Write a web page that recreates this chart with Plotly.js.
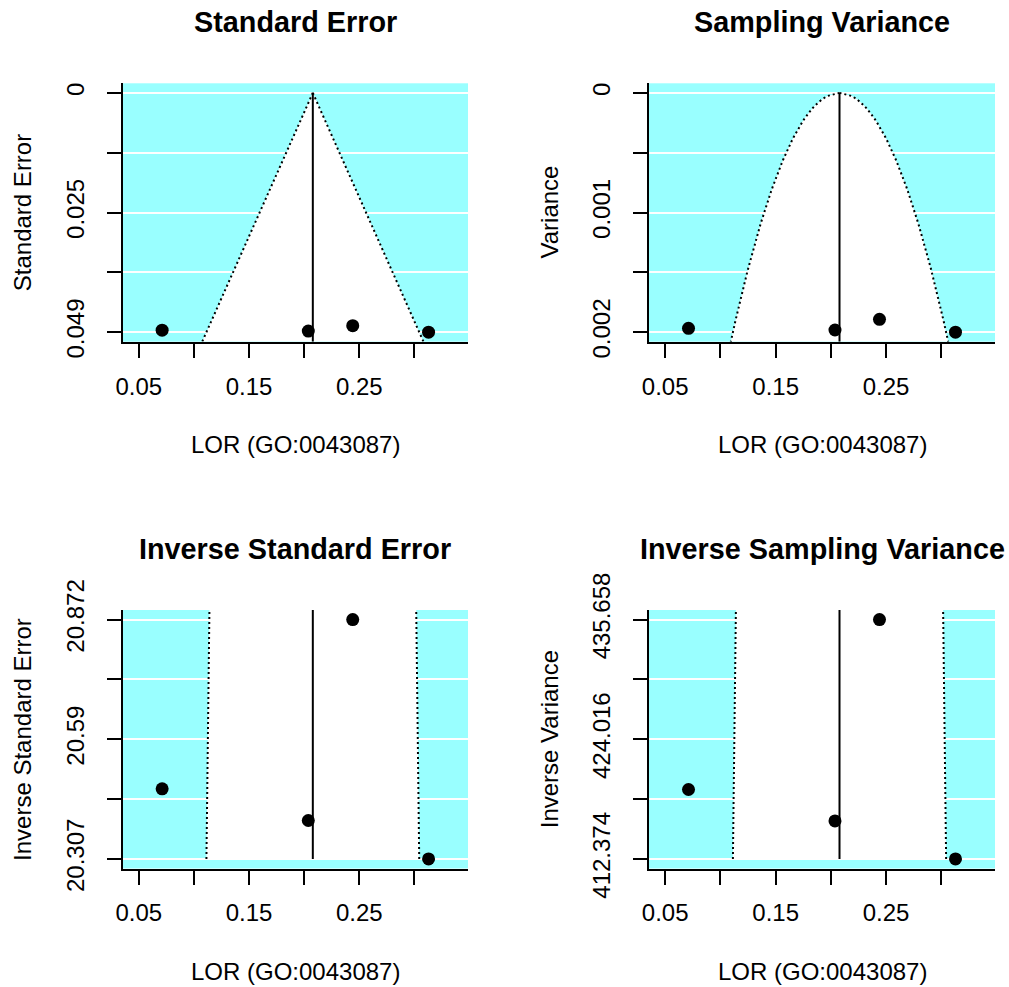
<!DOCTYPE html>
<html>
<head>
<meta charset="utf-8">
<script src="https://cdn.plot.ly/plotly-3.0.1.min.js"></script>
<style>html,body{margin:0;padding:0;background:#fff;}#chart{width:1009px;height:987px;}</style>
</head>
<body>
<div id="chart"></div>
<script>
// ---- data ----
const lor = [0.0711, 0.2037, 0.2440, 0.3128];          // log odds ratios (GO:0043087)
const sei = [0.048846, 0.049025, 0.047911, 0.049244];  // standard errors
const estimate = 0.2078;                                // pooled estimate (reference line)
const zCrit = 1.96;

const panelTitles = ["Standard Error", "Sampling Variance", "Inverse Standard Error", "Inverse Sampling Variance"];
const yTitles = ["Standard Error", "Variance", "Inverse Standard Error", "Inverse Variance"];
const xTitle = "LOR (GO:0043087)";

const xTickVals = [0.05, 0.10, 0.15, 0.20, 0.25, 0.30];
const xTickText = ["0.05", "", "0.15", "", "0.25", ""];
const seTickText = ["0", "", "0.025", "", "0.049"];
const varTickText = ["0", "", "0.001", "", "0.002"];
const invSeTickText = ["20.307", "", "20.59", "", "20.872"];
const invVarTickText = ["412.374", "", "424.016", "", "435.658"];

// ---- derived measures ----
const vi = sei.map(s => s * s);
const invSe = sei.map(s => 1 / s);
const invVi = vi.map(v => 1 / v);

const BG = "#99FFFF";
const FONT = "Liberation Sans, Arial, Helvetica, sans-serif";
const W = 1009, H = 987;

function linspace(a, b, n) { const o = []; for (let i = 0; i < n; i++) o.push(a + (b - a) * i / (n - 1)); return o; }

// x range (metafor: data range +/-10%, then R's 4% axis extension)
const xlo0 = Math.min(Math.min(...lor), estimate - zCrit * Math.max(...sei));
const xhi0 = Math.max(Math.max(...lor), estimate + zCrit * Math.max(...sei));
const xw0 = xhi0 - xlo0;
const xlim = [xlo0 - 0.1 * xw0, xhi0 + 0.1 * xw0];
const xr = [xlim[0] - 0.04 * (xlim[1] - xlim[0]), xlim[1] + 0.04 * (xlim[1] - xlim[0])];

// panel pixel boxes
const boxes = [
  {x0: 122.7, x1: 468, y0: 83.3, y1: 341.7},
  {x0: 649, x1: 995, y0: 83.3, y1: 341.7},
  {x0: 122.7, x1: 468, y0: 610, y1: 868.5},
  {x0: 649, x1: 995, y0: 610, y1: 868.5}
];

const panels = [
  {y: sei, lim: [0, Math.max(...sei)], inv: false, half: y => zCrit * y, ticks: seTickText},
  {y: vi, lim: [0, Math.max(...vi)], inv: false, half: y => zCrit * Math.sqrt(Math.max(y, 0)), ticks: varTickText},
  {y: invSe, lim: [Math.min(...invSe), Math.max(...invSe)], inv: true, half: y => zCrit / y, ticks: invSeTickText},
  {y: invVi, lim: [Math.min(...invVi), Math.max(...invVi)], inv: true, half: y => zCrit / Math.sqrt(y), ticks: invVarTickText}
];

const traces = [];
const layout = {
  width: W, height: H,
  margin: {l: 0, r: 0, t: 0, b: 0},
  paper_bgcolor: "#fff",
  plot_bgcolor: BG,
  showlegend: false,
  font: {family: FONT, size: 24, color: "#000"},
  annotations: []
};

panels.forEach((p, i) => {
  const k = i + 1;
  const xa = "x" + (k === 1 ? "" : k), ya = "y" + (k === 1 ? "" : k);
  const xKey = "xaxis" + (k === 1 ? "" : k), yKey = "yaxis" + (k === 1 ? "" : k);
  const b = boxes[i];
  const d = p.lim[1] - p.lim[0];
  const yr = [p.lim[0] - 0.04 * d, p.lim[1] + 0.04 * d];
  const yStart = p.lim[0], yEnd = yr[1];
  const n = 80;
  const ys = linspace(yStart, yEnd, n);
  const left = ys.map(y => estimate - p.half(y));
  const right = ys.map(y => estimate + p.half(y));
  // white funnel polygon
  traces.push({
    type: "scatter", mode: "lines", xaxis: xa, yaxis: ya,
    x: left.concat(right.slice().reverse()),
    y: ys.concat(ys.slice().reverse()),
    fill: "toself", fillcolor: "#ffffff", line: {width: 0, color: "rgba(0,0,0,0)"},
    hoverinfo: "skip"
  });
  // dotted funnel edges
  [left, right].forEach(arr => traces.push({
    type: "scatter", mode: "lines", xaxis: xa, yaxis: ya,
    x: arr, y: ys, line: {color: "#000", width: 2, dash: "2px,3px"}, hoverinfo: "skip"
  }));
  // reference line
  traces.push({
    type: "scatter", mode: "lines", xaxis: xa, yaxis: ya,
    x: [estimate, estimate], y: [yStart, yEnd], line: {color: "#000", width: 2}, hoverinfo: "skip"
  });
  // studies
  traces.push({
    type: "scatter", mode: "markers", xaxis: xa, yaxis: ya,
    x: lor, y: p.y, marker: {color: "#000", size: 13, symbol: "circle"}
  });

  layout[xKey] = {
    domain: [b.x0 / W, b.x1 / W], anchor: ya, range: xr,
    tickmode: "array", tickvals: xTickVals, ticktext: xTickText,
    ticks: "outside", ticklen: 14, tickwidth: 2, tickcolor: "#000",
    showline: true, linewidth: 2, linecolor: "#000",
    showgrid: false, zeroline: false, tickfont: {size: 24, family: FONT},
    ticklabelstandoff: 8, fixedrange: true
  };
  layout[yKey] = {
    domain: [1 - b.y1 / H, 1 - b.y0 / H], anchor: xa,
    range: p.inv ? yr : [yr[1], yr[0]],
    tickmode: "array", tickvals: linspace(p.lim[0], p.lim[1], 5), ticktext: p.ticks,
    tickangle: -90,
    ticks: "outside", ticklen: 14, tickwidth: 2, tickcolor: "#000",
    showline: true, linewidth: 2, linecolor: "#000",
    showgrid: true, gridcolor: "#ffffff", gridwidth: 2, zeroline: false,
    tickfont: {size: 24, family: FONT}, ticklabelstandoff: 13, fixedrange: true
  };

  const cx = (b.x0 + b.x1) / 2;
  const cy = (b.y0 + b.y1) / 2;
  layout.annotations.push({
    xref: "paper", yref: "paper", x: cx / W, y: 1 - (b.y0 - 61) / H,
    xanchor: "center", yanchor: "middle", showarrow: false,
    text: "<b>" + panelTitles[i] + "</b>", font: {size: 28.8, family: FONT, color: "#000"}
  });
  layout.annotations.push({
    xref: "paper", yref: "paper", x: cx / W, y: 1 - (b.y1 + 103) / H,
    xanchor: "center", yanchor: "middle", showarrow: false,
    text: xTitle, font: {size: 24, family: FONT, color: "#000"}
  });
  layout.annotations.push({
    xref: "paper", yref: "paper", x: (b.x0 - 100) / W, y: 1 - cy / H,
    xanchor: "center", yanchor: "middle", showarrow: false, textangle: -90,
    text: yTitles[i], font: {size: 24, family: FONT, color: "#000"}
  });
});

Plotly.newPlot("chart", traces, layout, {staticPlot: true, displayModeBar: false});
</script>
</body>
</html>
